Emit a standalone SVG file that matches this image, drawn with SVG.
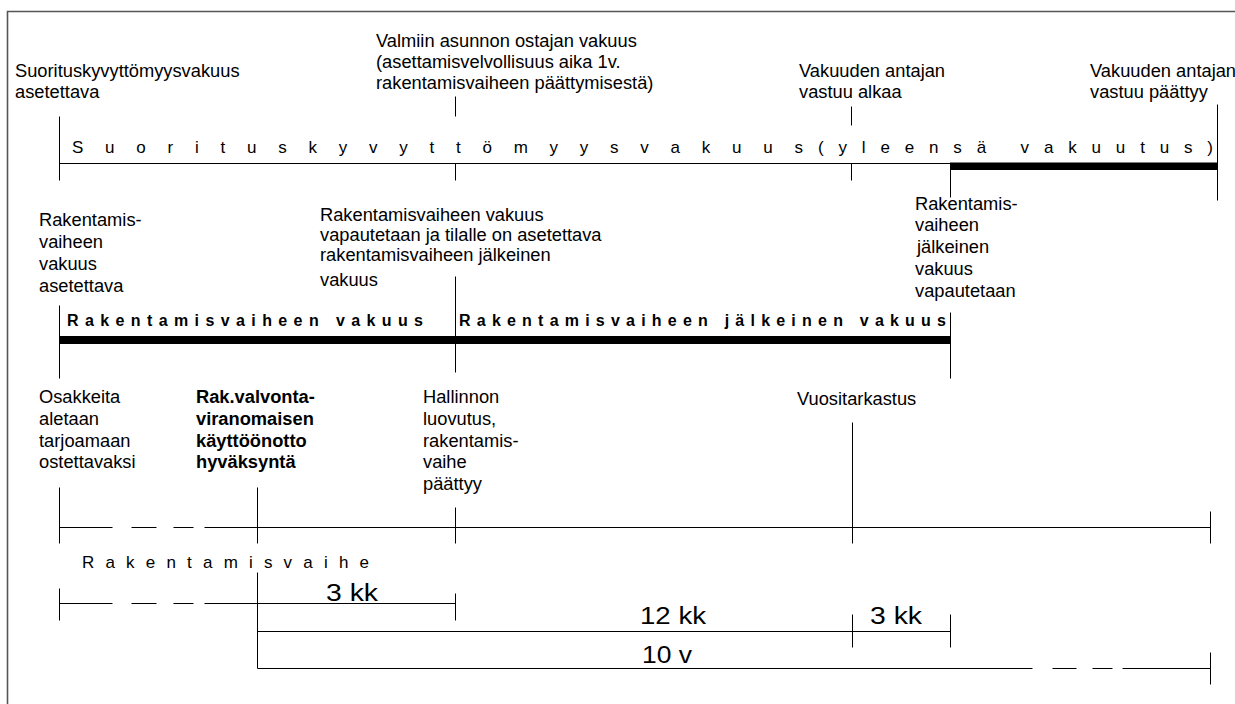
<svg xmlns="http://www.w3.org/2000/svg" width="1235" height="704" viewBox="0 0 1235 704">
<style>
text{font-family:"Liberation Sans",Arial,Helvetica,sans-serif;fill:#000}
.l{font-size:18.3px}
.b{font-weight:bold}
.sp{font-size:17px}
.sb{font-size:16px;font-weight:bold}
.d{font-size:23px}
.ln{stroke:#000;stroke-width:1;fill:none}
.frame{stroke:#555;stroke-width:1.6;fill:none}
</style>
<rect width="1235" height="704" fill="#fff"/>
<path class="frame" d="M7.5,704 V11.5 H1235"/>

<g id="connectors" transform="translate(0.5 0.5)">
  <path class="ln" d="M59,116 V180 M455,96 V116 M455,163 V180 M851,106 V125 M851,163 V180 M950,163 V197 M950,312 V378 M1217,104 V200 M59,163 H950"/>
  <rect x="949.5" y="162" width="267.5" height="7.5" fill="#000"/>
  <path class="ln" d="M59,305 V378 M455,276 V372"/>
  <rect x="58.5" y="335.5" width="891.5" height="8" fill="#000"/>
  <path class="ln" d="M59,527 H112 M131,527 H156 M173,527 H193 M204,527 H1210 M59,487 V543 M257,487 V543 M455,507 V543 M852,422 V543 M1210,511 V543"/>
  <path class="ln" d="M59,603 H112 M131,603 H156 M173,603 H193 M204,603 H455 M59,588 V620 M455,593 V620 M257,572 V668"/>
  <path class="ln" d="M257,631 H950 M852,614 V647 M950,614 V647"/>
  <path class="ln" d="M257,668 H1032 M1052,668 H1076 M1092,668 H1112 M1122,668 H1210 M1210,652 V684"/>
</g>

<g id="bar-suoritus">
  <text class="sp" x="72" y="153" textLength="731" lengthAdjust="spacing">Suorituskyvyttömyysvakuus</text>
  <text class="sp" x="818" y="153" textLength="395" lengthAdjust="spacing">(yleensä vakuutus)</text>
</g>
<g id="bar-rakentamisvaiheen">
  <text class="sb" x="67" y="326" textLength="356" lengthAdjust="spacing">Rakentamisvaiheen vakuus</text>
</g>
<g id="bar-jalkeinen">
  <text class="sb" x="459" y="326" textLength="487" lengthAdjust="spacing">Rakentamisvaiheen jälkeinen vakuus</text>
</g>
<g id="bar-rakentamisvaihe">
  <text class="sp" x="82" y="568" textLength="287" lengthAdjust="spacing">Rakentamisvaihe</text>
</g>

<g id="lbl-suoritus-asetettava">
  <text class="l" x="15" y="77">Suorituskyvyttömyysvakuus</text>
  <text class="l" x="15" y="98">asetettava</text>
</g>
<g id="lbl-valmiin">
  <text class="l" x="376" y="47">Valmiin asunnon ostajan vakuus</text>
  <text class="l" x="376" y="68">(asettamisvelvollisuus aika 1v.</text>
  <text class="l" x="376" y="89">rakentamisvaiheen päättymisestä)</text>
</g>
<g id="lbl-vastuu-alkaa">
  <text class="l" x="799" y="77">Vakuuden antajan</text>
  <text class="l" x="799" y="98">vastuu alkaa</text>
</g>
<g id="lbl-vastuu-paattyy">
  <text class="l" x="1090" y="77">Vakuuden antajan</text>
  <text class="l" x="1090" y="98">vastuu päättyy</text>
</g>

<g id="lbl-rak-asetettava">
  <text class="l" x="39" y="226">Rakentamis-</text>
  <text class="l" x="39" y="248">vaiheen</text>
  <text class="l" x="39" y="270">vakuus</text>
  <text class="l" x="39" y="292">asetettava</text>
</g>
<g id="lbl-rak-vapautetaan">
  <text class="l" x="320" y="221">Rakentamisvaiheen vakuus</text>
  <text class="l" x="320" y="241">vapautetaan ja tilalle on asetettava</text>
  <text class="l" x="320" y="261">rakentamisvaiheen jälkeinen</text>
  <text class="l" x="320" y="286">vakuus</text>
</g>
<g id="lbl-jalkeinen-vapautetaan">
  <rect x="912" y="198" width="120" height="108" fill="#fff"/>
  <text class="l" x="915" y="210">Rakentamis-</text>
  <text class="l" x="915" y="231">vaiheen</text>
  <text class="l" x="917" y="253">jälkeinen</text>
  <text class="l" x="915" y="275">vakuus</text>
  <text class="l" x="915" y="297">vapautetaan</text>
</g>

<g id="lbl-osakkeita">
  <text class="l" x="39" y="403">Osakkeita</text>
  <text class="l" x="39" y="425">aletaan</text>
  <text class="l" x="39" y="447">tarjoamaan</text>
  <text class="l" x="39" y="468">ostettavaksi</text>
</g>
<g id="lbl-rakvalvonta">
  <text class="l b" x="196" y="403">Rak.valvonta-</text>
  <text class="l b" x="196" y="425">viranomaisen</text>
  <text class="l b" x="196" y="447">käyttöönotto</text>
  <text class="l b" x="196" y="468">hyväksyntä</text>
</g>
<g id="lbl-hallinnon">
  <text class="l" x="423" y="403">Hallinnon</text>
  <text class="l" x="423" y="425">luovutus,</text>
  <text class="l" x="423" y="447">rakentamis-</text>
  <text class="l" x="423" y="468">vaihe</text>
  <text class="l" x="423" y="490">päättyy</text>
</g>
<g id="lbl-vuositarkastus">
  <text class="l" x="797" y="405">Vuositarkastus</text>
</g>

<g id="dim-3kk">
  <text class="d" x="326" y="601" textLength="52" lengthAdjust="spacingAndGlyphs">3 kk</text>
</g>
<g id="dim-12kk">
  <text class="d" x="640" y="624" textLength="66" lengthAdjust="spacingAndGlyphs">12 kk</text>
</g>
<g id="dim-3kk-b">
  <text class="d" x="870" y="624" textLength="52" lengthAdjust="spacingAndGlyphs">3 kk</text>
</g>
<g id="dim-10v">
  <text class="d" x="642" y="663" textLength="50" lengthAdjust="spacingAndGlyphs">10 v</text>
</g>
</svg>
